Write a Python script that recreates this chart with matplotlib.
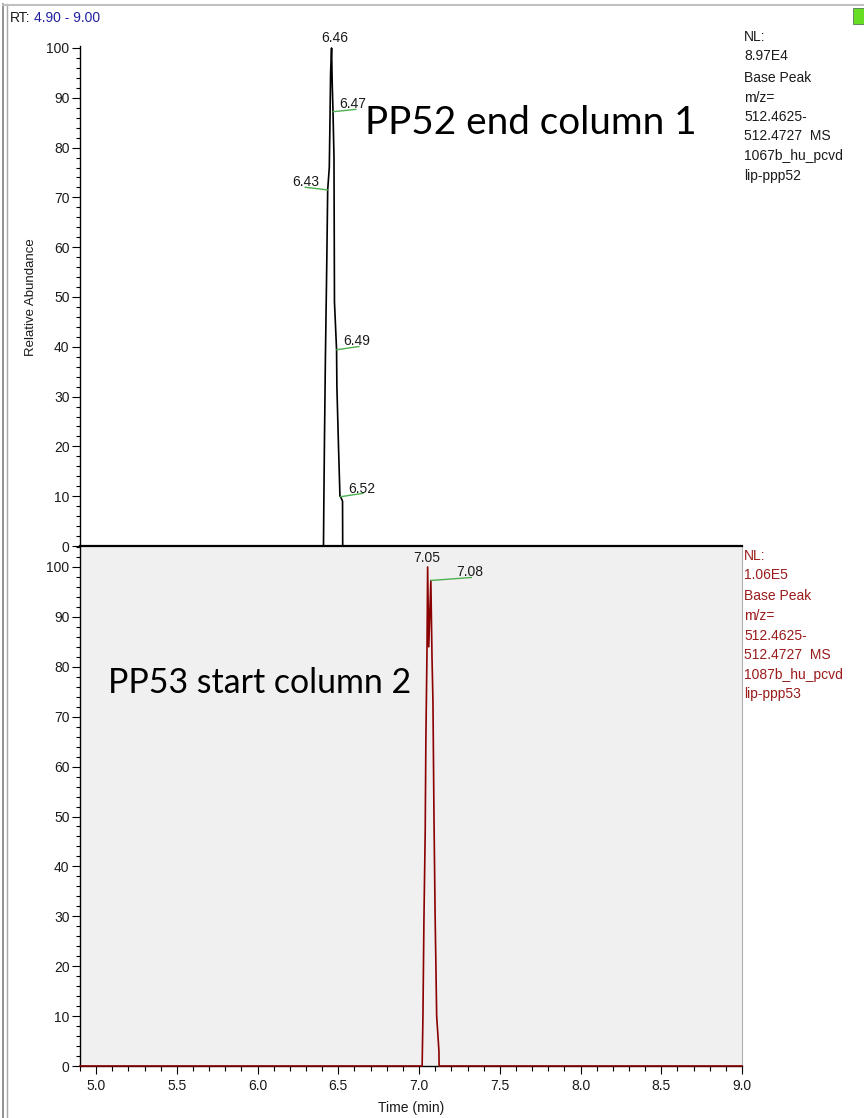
import matplotlib
matplotlib.use("Agg")
import matplotlib.pyplot as plt
from matplotlib.ticker import MultipleLocator
from matplotlib.lines import Line2D
from matplotlib.patches import Rectangle

# ---------------- data ----------------
top_time = [4.90, 6.408, 6.410, 6.414, 6.420, 6.428, 6.434, 6.444, 6.448, 6.452, 6.458,
            6.462, 6.467, 6.473, 6.476, 6.489, 6.491, 6.501, 6.510, 6.514, 6.526, 6.527, 9.00]
top_abund = [0, 0, 8, 21, 38, 56, 71.5, 76, 85, 95, 100,
             93, 87.2, 78, 49, 39.4, 32, 20, 10, 9.9, 9, 0, 0]

bot_time = [4.90, 7.019, 7.020, 7.024, 7.030, 7.038, 7.042, 7.049, 7.053, 7.060, 7.073,
            7.080, 7.086, 7.092, 7.099, 7.109, 7.117, 7.123, 7.124, 9.00]
bot_abund = [0, 0, 2, 10, 29, 47, 65, 83, 100, 84, 97.3,
             82, 73, 51, 31, 10, 6, 3, 0, 0]

# peak labels: (time, abundance, text, line dx px, line dy px, text x px, text bottom px, ha)
top_labels = [
    (6.458, 100.0, "6.46", 0, 0, 3, 6, "center"),
    (6.467, 87.2, "6.47", 23, 2.4, 6, 3.7, "left"),
    (6.434, 71.5, "6.43", -22.7, 2.7, -8.7, 4, "right"),
    (6.489, 39.4, "6.49", 22.6, 3.3, 6.6, 4.3, "left"),
    (6.514, 9.9, "6.52", 22.6, 3.4, 7.6, 4, "left"),
]
bot_labels = [
    (7.053, 100.0, "7.05", 0, 0, -0.4, 5.3, "center"),
    (7.073, 97.3, "7.08", 40.7, 3, 25.7, 4.7, "left"),
]

top_info = ["NL:", "8.97E4", "Base Peak", "m/z=", "512.4625-", "512.4727  MS",
            "1067b_hu_pcvd", "lip-ppp52"]
bot_info = ["NL:", "1.06E5", "Base Peak", "m/z=", "512.4625-", "512.4727  MS",
            "1087b_hu_pcvd", "lip-ppp53"]

x_range = (4.9, 9.0)

# ---------------- figure ----------------
W, H = 864, 1118
fig = plt.figure(figsize=(W / 100, H / 100), dpi=100)
plt.rcParams['font.family'] = ['Liberation Sans', 'DejaVu Sans']

def fx(px):
    return px / W

def fy(py):
    return 1 - py / H

ax_l, ax_r = 80, 742
ax_top = fig.add_axes([fx(ax_l), fy(546), fx(ax_r - ax_l), fy(45.5) - fy(546)])
ax_bot = fig.add_axes([fx(ax_l), fy(1066), fx(ax_r - ax_l), fy(546) - fy(1066)])

TXT = '#1a1a1a'
GREEN = '#4caf50'
DARKRED = '#8b0000'

for ax in (ax_top, ax_bot):
    ax.set_xlim(*x_range)
    ax.yaxis.set_major_locator(MultipleLocator(10))
    ax.yaxis.set_minor_locator(MultipleLocator(2))
    ax.tick_params(axis='y', which='major', length=6, width=0.8, pad=1.5,
                   labelsize=10, labelcolor=TXT, direction='out')
    ax.tick_params(axis='y', which='minor', length=3.2, width=0.8, direction='out')

ax_top.set_ylim(0, 100.5)
ax_bot.set_ylim(0, (1066 - 546) / 4.99)

# top axes styling
for s in ('top', 'right', 'bottom'):
    ax_top.spines[s].set_visible(False)
ax_top.spines['left'].set_linewidth(1.0)
ax_top.set_xticks([])
ax_top.patch.set_alpha(0)

# bottom axes styling
ax_bot.set_facecolor('#f0f0f0')
ax_bot.spines['top'].set_linewidth(1.6)
ax_bot.spines['right'].set_color('#b0b0b0')
ax_bot.spines['left'].set_linewidth(1.0)
ax_bot.spines['bottom'].set_linewidth(1.0)
ax_bot.xaxis.set_major_locator(MultipleLocator(0.5))
ax_bot.xaxis.set_minor_locator(MultipleLocator(0.1))
ax_bot.tick_params(axis='x', which='major', length=6, width=0.8, pad=3,
                   labelsize=10, labelcolor=TXT, direction='out')
ax_bot.tick_params(axis='x', which='minor', length=3.5, width=0.8, direction='out')
ax_bot.set_xticks([5.0, 5.5, 6.0, 6.5, 7.0, 7.5, 8.0, 8.5, 9.0])
ax_bot.set_xticklabels(["5.0", "5.5", "6.0", "6.5", "7.0", "7.5", "8.0", "8.5", "9.0"])

# traces
ax_top.plot(top_time, top_abund, color='black', lw=1.2, clip_on=False, zorder=3)
ax_bot.plot(bot_time, bot_abund, color=DARKRED, lw=1.2, clip_on=False, zorder=3)

def add_labels(ax, labels):
    for t, v, s, ldx, ldy, tdx, tdy, ha in labels:
        if ldx != 0 or ldy != 0:
            ax.annotate("", xy=(t, v), xytext=(ldx, ldy), textcoords='offset pixels',
                        arrowprops=dict(arrowstyle='-', color=GREEN, lw=1.0,
                                        shrinkA=0, shrinkB=0), annotation_clip=False)
        ax.annotate(s, xy=(t, v), xytext=(tdx, tdy), textcoords='offset pixels',
                    ha=ha, va='baseline', fontsize=10, color=TXT, annotation_clip=False)

add_labels(ax_top, top_labels)
add_labels(ax_bot, bot_labels)

# NL info text blocks
def info_block(lines, y0, color):
    ys = [0, 19.5, 41, 60.5, 80, 99.5, 119, 138.5]
    for line, dy in zip(lines, ys):
        fig.text(fx(744), fy(y0 + dy), line, fontsize=10, color=color,
                 ha='left', va='center')

info_block(top_info, 37, TXT)
info_block(bot_info, 555.5, '#9a1b1b')

# RT header
fig.text(fx(10), fy(18), "RT:", fontsize=10, color=TXT, ha='left', va='center')
fig.text(fx(34), fy(18), "4.90 - 9.00", fontsize=10, color='#2020a0', ha='left', va='center')

# axis labels
fig.text(fx(31), fy(297), "Relative Abundance", fontsize=9.5, color=TXT, rotation=90,
         ha='center', va='center')
fig.text(fx(411), fy(1108), "Time (min)", fontsize=10, color=TXT, ha='center', va='center')

# big overlay annotations
fig.text(fx(365), fy(123), "PP52 end column 1", fontsize=27.8, color='black',
         family=['Lato', 'DejaVu Sans'], ha='left', va='center')
fig.text(fx(108), fy(683), "PP53 start column 2", fontsize=24.4, color='black',
         family=['Lato', 'DejaVu Sans'], ha='left', va='center')

# window frame decorations
fig.add_artist(Line2D([fx(3), fx(3)], [0, fy(4)], color='#808080', lw=1.2))
fig.add_artist(Line2D([fx(7), fx(7)], [0, fy(4)], color='#a8a8a8', lw=1.0))
fig.add_artist(Line2D([fx(3), 1], [fy(5), fy(5)], color='#c0c0c0', lw=1.5))
fig.add_artist(Rectangle((fx(853), fy(24)), fx(11), fy(8) - fy(24), facecolor='#66dd22',
                         edgecolor='#557755', lw=0.6))

fig.savefig("out.png", dpi=100)
